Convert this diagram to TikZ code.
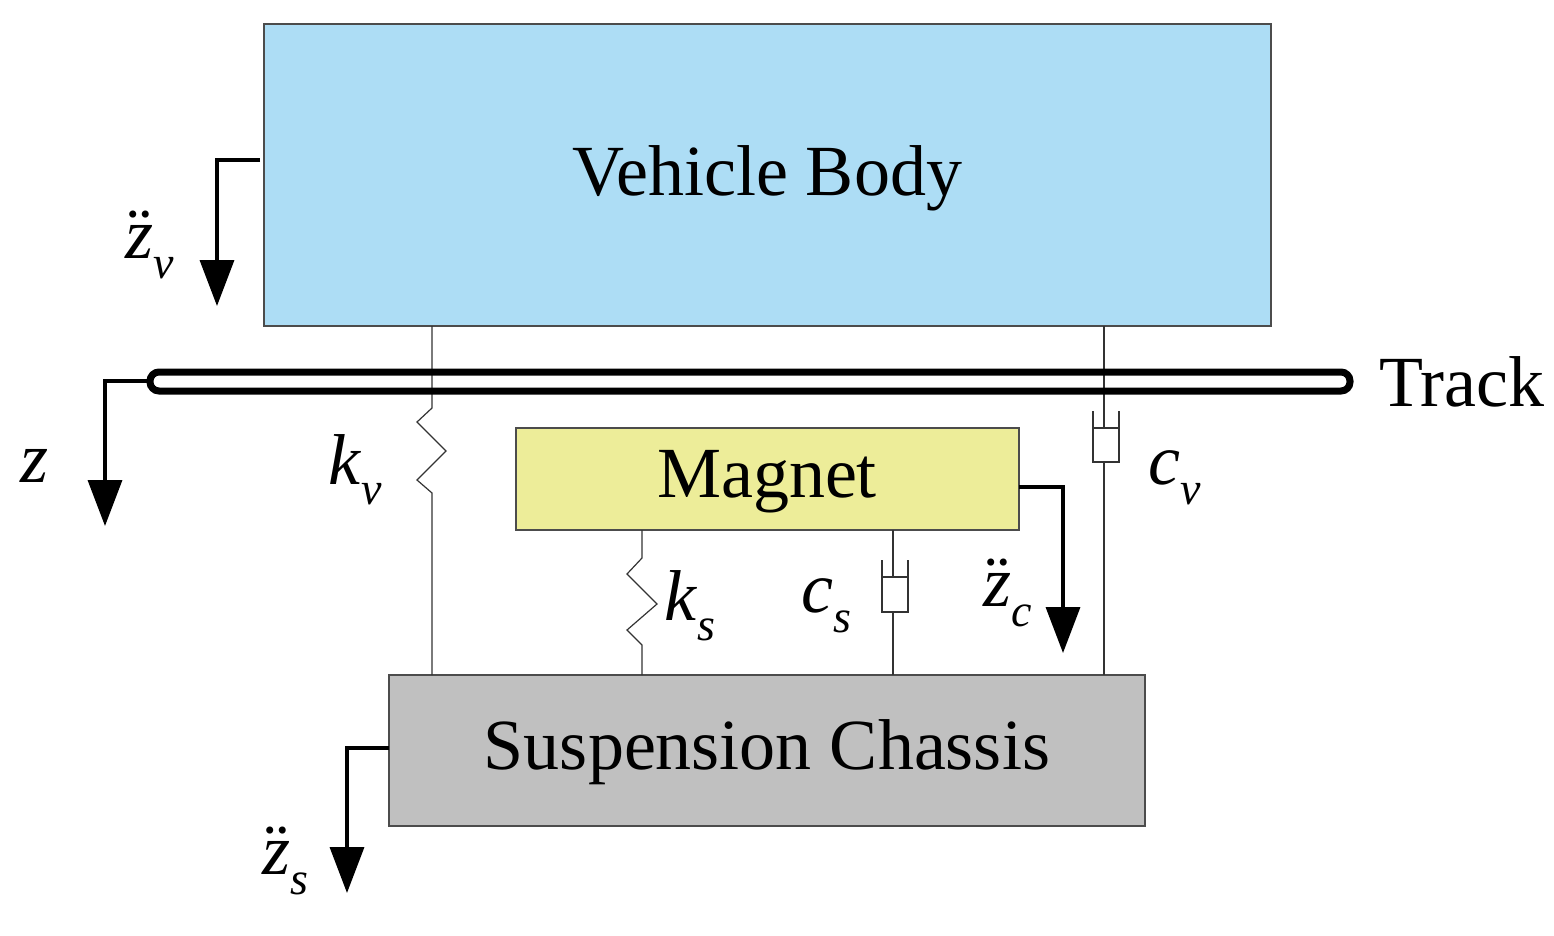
\documentclass[tikz,border=0pt]{standalone}
\usepackage{fontspec}
\setmainfont{Liberation Serif}
\usetikzlibrary{arrows.meta}
\definecolor{vb}{RGB}{173,221,245}
\definecolor{mg}{RGB}{237,237,153}
\definecolor{ch}{RGB}{192,192,192}
\newcommand{\ddz}{\ooalign{\textit{z}\cr\hidewidth\raisebox{0.02em}{\char"A8}\hidewidth\cr}}
\newcommand{\lbl}[2]{#1\raisebox{-0.28em}{\fontsize{46}{46}\selectfont\textit{#2}}}
\begin{document}
\begin{tikzpicture}[x=1pt,y=-1pt,
  box/.style={draw=black!70,line width=1.5pt},
  thin/.style={line width=1.2pt,draw=black!80},
  acc/.style={line width=3.5pt,-{Triangle[width=34pt,length=46pt]}},
  txt/.style={font=\fontsize{72}{80}\selectfont,inner sep=0},
  mlab/.style={font=\fontsize{72}{80}\selectfont,inner sep=0}]
\useasboundingbox (0,0) rectangle (1554,935);
% boxes
\path[box,fill=vb] (264,24) rectangle (1271,326);
\node[txt] (vb) at (767,178) {Vehicle Body};
\path[box,fill=mg] (516,428) rectangle (1019,530);
\node[txt] (mg) at (767,482) {Magnet};
\path[box,fill=ch] (389,675) rectangle (1145,826);
\node[txt] (ch) at (767,752) {Suspension Chassis};
% kv spring
\draw[thin] (432,326) -- (432,408) -- (417,422) -- (446,451) -- (417,480) -- (432,493) -- (432,675);
% cv damper
\draw[thin] (1104,326) -- (1104,428);
\draw[thin] (1093,428) -- (1119,428);
\draw[thin] (1093,411) -- (1093,462) -- (1119,462) -- (1119,411);
\draw[thin] (1104,462) -- (1104,675);
% ks spring
\draw[thin] (642,530) -- (642,558) -- (627,574) -- (657,604) -- (627,630) -- (642,645) -- (642,675);
% cs damper
\draw[thin] (893,530) -- (893,577);
\draw[thin] (882,577) -- (908,577);
\draw[thin] (882,560) -- (882,612) -- (908,612) -- (908,560);
\draw[thin] (893,612) -- (893,675);
% track
\draw[line width=7pt,rounded corners=9pt] (150,372) rectangle (1350,391);
\node[txt] (tr) at (1462,382) {Track};
% arrows
\draw[acc] (260,160) -- (217,160) -- (217,306);
\draw[acc] (150,381) -- (105,381) -- (105,526);
\draw[acc] (1019,487) -- (1063,487) -- (1063,653);
\draw[acc] (389,748) -- (347,748) -- (347,893);
% labels
\node[mlab] (lzv) at (150,252) {\lbl{\ddz}{v}};
\node[mlab] (lz) at (35,466) {\textit{z}};
\node[mlab] (lkv) at (355,470) {\lbl{\textit{k}}{v}};
\node[mlab] (lks) at (690,606) {\lbl{\textit{k}}{s}};
\node[mlab] (lcs) at (826,606) {\lbl{\textit{c}}{s}};
\node[mlab] (lzc) at (1008,600) {\lbl{\ddz}{c}};
\node[mlab] (lcv) at (1175,478) {\lbl{\textit{c}}{v}};
\node[mlab] (lzs) at (285,868) {\lbl{\ddz}{s}};
\end{tikzpicture}
\end{document}
